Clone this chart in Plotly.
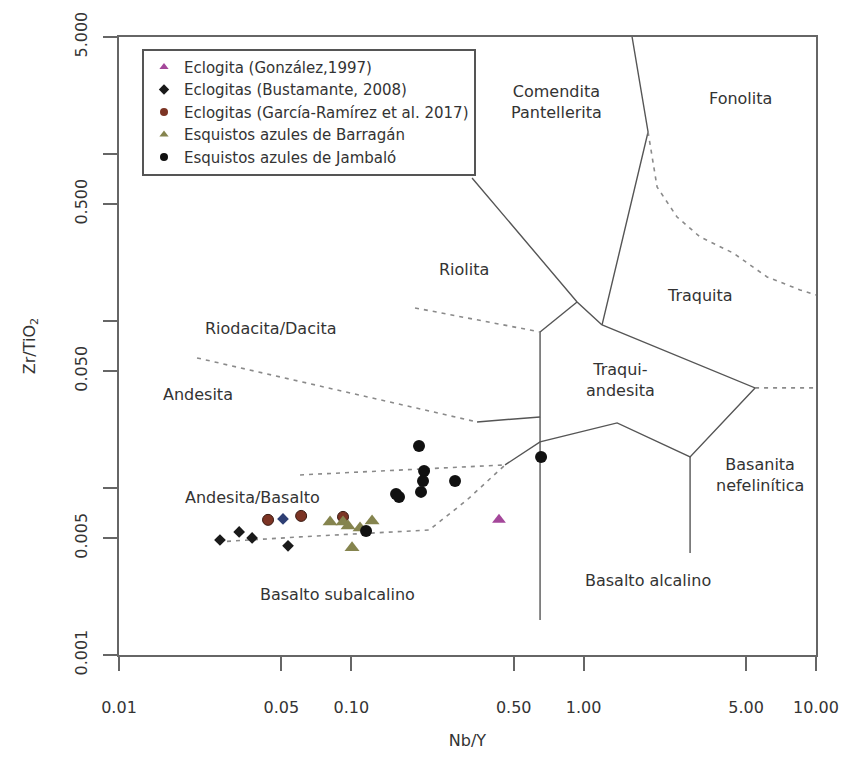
import numpy as np
import plotly.graph_objects as go

# ---- Sample data (Nb/Y, Zr/TiO2) ----
gonzalez_x = [0.432]
gonzalez_y = [0.00644]

bustamante_x = [0.0272, 0.0329, 0.0374, 0.0534, 0.0508]
bustamante_y = [0.00488, 0.00545, 0.00502, 0.00450, 0.00652]
bustamante_c = ["#1a1a1a", "#1a1a1a", "#1a1a1a", "#1a1a1a", "#2e3f74"]

garcia_x = [0.0438, 0.0608, 0.0921]
garcia_y = [0.00644, 0.00680, 0.00671]

barragan_x = [0.0810, 0.0921, 0.0968, 0.1090, 0.1228, 0.1007]
barragan_y = [0.00626, 0.00626, 0.00592, 0.00576, 0.00635, 0.00438]

jambalo_x = [0.1157, 0.1956, 0.2056, 0.2035, 0.1995, 0.1558, 0.1604, 0.2795, 0.6556]
jambalo_y = [0.00553, 0.01784, 0.01264, 0.01101, 0.00947, 0.00921, 0.00883, 0.01101, 0.01533]

# ---- Field boundaries (Winchester & Floyd) ----
solid_lines = [
    ([0.3308, 0.9367, 1.200], [0.7166, 0.1298, 0.09452]),
    ([0.6491, 0.9367], [0.08583, 0.1298]),
    ([1.616, 1.893, 1.200], [5.0, 1.351, 0.09452]),
    ([1.200, 5.467, 2.871, 1.393, 0.6491, 0.4588], [0.09452, 0.03968, 0.01533, 0.02449, 0.01885, 0.01373]),
    ([2.871, 2.871], [0.01533, 0.004083]),
    ([0.6491, 0.6491], [0.08583, 0.001622]),
    ([0.3476, 0.6491], [0.02483, 0.02660]),
]
dashed_lines = [
    ([1.893, 2.070, 2.523, 3.170, 4.397, 6.159, 8.543, 10.0],
     [1.351, 0.6329, 0.4184, 0.3178, 0.2549, 0.1831, 0.1531, 0.1429]),
    ([5.467, 10.0], [0.03968, 0.03968]),
    ([0.1880, 0.6491], [0.1195, 0.08583]),
    ([0.02167, 0.3476], [0.05998, 0.02483]),
    ([0.06015, 0.4588], [0.01196, 0.01373]),
    ([0.02668, 0.06015, 0.2183, 0.2248, 0.3148, 0.3838, 0.4588],
     [0.004752, 0.005091, 0.005606, 0.005842, 0.008477, 0.01086, 0.01373]),
]

field_names = ["Comendita<br>Pantellerita", "Fonolita", "Riolita", "Traquita",
               "Traqui-<br>andesita", "Riodacita/Dacita", "Andesita",
               "Andesita/Basalto", "Basanita<br>nefelinítica",
               "Basalto subalcalino", "Basalto alcalino"]
field_x = [0.7606, 4.713, 0.3055, 3.170, 1.435, 0.0451, 0.02188, 0.03737, 5.745, 0.0876, 1.893]
field_y = [2.04, 2.128, 0.2017, 0.141, 0.04428, 0.0894, 0.0360, 0.00871, 0.01196, 0.00229, 0.002777]

x_ticks = [0.01, 0.05, 0.1, 0.5, 1, 5, 10]
x_ticktext = ["0.01", "0.05", "0.10", "0.50", "1.00", "5.00", "10.00"]
y_ticks = [0.001, 0.005, 0.05, 0.5, 5]
y_ticktext = ["0.001", "0.005", "0.050", "0.500", "5.000"]
y_minor_ticks = [0.01, 0.1, 1]

FONT = "DejaVu Sans, Liberation Sans, sans-serif"
TEXT = "#333333"
AXIS = "#666666"

fig = go.Figure()

for xs, ys in solid_lines:
    fig.add_trace(go.Scatter(x=xs, y=ys, mode="lines", showlegend=False, hoverinfo="skip",
                             line=dict(color="#555555", width=1.4)))
for xs, ys in dashed_lines:
    fig.add_trace(go.Scatter(x=xs, y=ys, mode="lines", showlegend=False, hoverinfo="skip",
                             line=dict(color="#8a8a8a", width=1.6, dash="4px,5px")))

series = [
    ("Eclogita (González,1997)", gonzalez_x, gonzalez_y,
     dict(symbol="triangle-up", size=12, color="#a4479a"), "#a4479a"),
    ("Eclogitas (Bustamante, 2008)", bustamante_x, bustamante_y,
     dict(symbol="diamond", size=9, color=bustamante_c), "#1a1a1a"),
    ("Eclogitas (García-Ramírez et al. 2017)", garcia_x, garcia_y,
     dict(symbol="circle", size=11, color="#7c3424", line=dict(color="#3a1a12", width=1)), "#7c3424"),
    ("Esquistos azules de Barragán", barragan_x, barragan_y,
     dict(symbol="triangle-up", size=13, color="#85844e"), "#85844e"),
    ("Esquistos azules de Jambaló", jambalo_x, jambalo_y,
     dict(symbol="circle", size=12, color="#111111"), "#111111"),
]
for name, xs, ys, mk, legend_color in series:
    fig.add_trace(go.Scatter(x=xs, y=ys, mode="markers", name=name, legendgroup=name,
                             showlegend=False, marker=mk))
    # compact legend symbol for the same group
    fig.add_trace(go.Scatter(x=[None], y=[None], mode="markers", name=name, legendgroup=name,
                             marker=dict(symbol=mk["symbol"], size=8, color=legend_color)))

for name, fx, fy in zip(field_names, field_x, field_y):
    fig.add_annotation(x=np.log10(fx), y=np.log10(fy), text=name, showarrow=False,
                       font=dict(family=FONT, size=16, color=TEXT), align="center")

fig.update_layout(
    width=847, height=759,
    margin=dict(l=119, r=31, t=37, b=104),
    paper_bgcolor="white", plot_bgcolor="white",
    font=dict(family=FONT, size=16, color=TEXT),
    showlegend=True,
    legend=dict(x=0.033, y=0.981, xanchor="left", yanchor="top",
                bgcolor="white", bordercolor="#555555", borderwidth=2,
                font=dict(family=FONT, size=15, color=TEXT),
                tracegroupgap=0, itemwidth=30),
)
fig.update_xaxes(type="log", range=[-2, 1], tickvals=x_ticks, ticktext=x_ticktext,
                 ticks="outside", ticklen=14, tickwidth=1.5, tickcolor=AXIS,
                 showline=True, linecolor=AXIS, linewidth=2, mirror=True,
                 showgrid=False, zeroline=False, ticklabelstandoff=23, automargin=False,
                 title=dict(text="Nb/Y", standoff=19, font=dict(size=16)))
fig.update_yaxes(type="log", range=[-3, np.log10(5)], tickvals=y_ticks, ticktext=y_ticktext,
                 ticks="outside", ticklen=14, tickwidth=1.5, tickcolor=AXIS,
                 minor=dict(tickvals=y_minor_ticks, ticks="outside", ticklen=14,
                            tickwidth=1.5, tickcolor=AXIS, showgrid=False),
                 showline=True, linecolor=AXIS, linewidth=2, mirror=True,
                 showgrid=False, zeroline=False, tickangle=-90, ticklabelstandoff=10,
                 automargin=False,
                 title=dict(text="Zr/TiO<sub>2</sub>", standoff=32, font=dict(size=16)))

fig.write_html("out.html")
